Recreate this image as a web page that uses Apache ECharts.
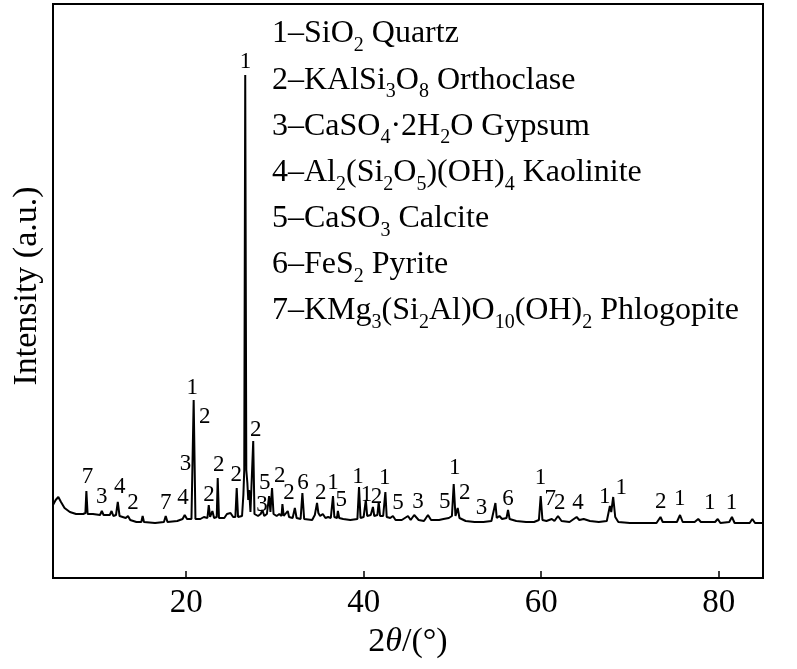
<!DOCTYPE html>
<html>
<head>
<meta charset="utf-8">
<script src="https://cdn.jsdelivr.net/npm/echarts@6/dist/echarts.min.js"></script>
<style>
  html, body { margin: 0; padding: 0; background: #fff; }
  #main { width: 797px; height: 669px; }
</style>
</head>
<body>
<div id="main"></div>
<script>
// XRD pattern: 2theta (deg) and intensity (a.u.)
var twoTheta = [5.0, 5.3, 5.6, 5.9, 6.3, 6.9, 7.6, 8.4, 8.65, 8.76, 8.9, 9.5, 10.3, 10.5, 10.7, 11.4, 11.6, 11.8, 12.1, 12.3,
  12.5, 13.2, 13.45, 13.7, 14.4, 14.95, 15.1, 15.25, 16.5, 17.5, 17.7, 17.9, 19.0, 19.6, 19.84, 20.1, 20.6, 20.85, 21.05, 21.6,
  22.0, 22.4, 22.55, 22.7, 22.96, 23.15, 23.45, 23.56, 23.7, 24.3, 24.6, 24.8, 25.0, 25.3, 25.55, 25.7, 25.85, 26.3, 26.45, 26.55,
  26.66, 26.78, 26.9, 27.0, 27.1, 27.25, 27.45, 27.56, 27.7, 28.1, 28.4, 28.6, 28.8, 29.1, 29.35, 29.5, 29.68, 29.85, 30.2, 30.5,
  30.75, 30.85, 31.0, 31.45, 31.6, 32.0, 32.25, 32.45, 32.9, 33.1, 33.3, 34.2, 34.5, 34.75, 34.9, 35.1, 35.4, 35.7, 36.0, 36.3,
  36.55, 36.7, 37.0, 37.1, 37.25, 37.7, 38.5, 39.3, 39.48, 39.65, 40.0, 40.25, 40.4, 40.8, 41.05, 41.2, 41.55, 41.7, 41.85, 42.2,
  42.45, 42.6, 43.0, 43.3, 43.6, 44.3, 45.0, 45.3, 45.7, 45.9, 46.2, 46.8, 47.25, 47.6, 48.5, 49.0, 49.6, 49.95, 50.15, 50.35,
  50.6, 50.8, 51.5, 52.5, 53.5, 54.4, 54.85, 55.0, 55.3, 55.6, 56.1, 56.27, 56.45, 57.2, 58.3, 59.2, 59.75, 59.95, 60.15, 60.6,
  61.2, 61.5, 61.9, 62.3, 63.2, 64.0, 64.3, 64.8, 65.5, 66.5, 67.4, 67.75, 67.9, 68.12, 68.35, 68.7, 70.0, 71.5, 73.0, 73.45,
  73.7, 75.3, 75.65, 75.95, 77.3, 77.7, 78.0, 79.6, 79.9, 80.2, 81.2, 81.5, 81.8, 83.5, 83.8, 84.1, 85.0];
var intensity = [73, 78, 81, 76, 70, 66, 64, 64, 65, 87, 64, 64, 63, 67, 63, 63, 67, 62, 63, 76,
  62, 60, 62, 58, 56, 56, 62, 56, 55, 56, 62, 56, 57, 59, 63, 59, 59, 178, 59, 59,
  61, 60, 73, 61, 67, 60, 61, 100, 60, 60, 64, 62, 65, 61, 61, 90, 61, 62, 83, 108,
  503, 108, 95, 78, 88, 66, 64, 137, 64, 62, 64, 68, 62, 64, 82, 66, 90, 64, 62, 64,
  62, 74, 62, 67, 61, 60, 70, 60, 59, 85, 59, 58, 63, 75, 65, 62, 64, 60, 61, 60,
  82, 61, 60, 67, 60, 59, 58, 59, 91, 60, 61, 78, 62, 63, 71, 62, 63, 76, 62, 62,
  86, 61, 60, 62, 58, 58, 62, 58, 63, 64, 58, 57, 63, 58, 58, 59, 60, 62, 94, 62,
  70, 60, 57, 56, 56, 57, 75, 60, 62, 59, 60, 68, 59, 57, 56, 56, 58, 82, 58, 57,
  59, 57, 62, 57, 56, 61, 58, 59, 57, 56, 57, 72, 66, 81, 61, 56, 55, 55, 55, 61,
  56, 56, 63, 56, 56, 59, 56, 56, 59, 55, 56, 61, 55, 55, 59, 55, 55];

// phase numbers written above the peaks
var markTheta = [8.88, 10.49, 12.52, 14.01, 17.7, 19.65, 19.92, 20.7, 22.09, 22.58, 23.67, 25.66, 26.68, 27.84, 28.85, 28.55,
  30.54, 31.59, 33.17, 35.16, 36.55, 37.49, 39.37, 40.31, 41.44, 42.37, 43.87, 46.13, 49.14, 50.27, 51.39, 53.27, 56.27,
  59.92, 61.04, 62.09, 64.15, 67.16, 69.04, 73.47, 75.61, 78.99, 81.44];
var markHeight = [101, 81, 91, 75, 75, 80, 114, 190, 161, 83, 113, 103, 516, 148, 95, 73,
  102, 85, 95, 85, 95, 78, 101, 83, 81, 100, 75, 76, 76, 110, 85, 70, 79,
  100, 79, 75, 75, 81, 90, 76, 79, 75, 75];
var markText = ['7', '3', '4', '2', '7', '4', '3', '1', '2', '2', '2', '2', '1', '2', '5', '3',
  '2', '2', '6', '2', '1', '5', '1', '1', '2', '1', '5', '3', '5', '1', '2', '3', '6',
  '1', '7', '2', '4', '1', '1', '2', '1', '1', '1'];

var xTicks = [20, 40, 60, 80];

var phases = [
  '{m|1–SiO}{s|2}{m| Quartz}',
  '{m|2–KAlSi}{s|3}{m|O}{s|8}{m| Orthoclase}',
  '{m|3–CaSO}{s|4}{m|·2H}{s|2}{m|O Gypsum}',
  '{m|4–Al}{s|2}{m|(Si}{s|2}{m|O}{s|5}{m|)(OH)}{s|4}{m| Kaolinite}',
  '{m|5–CaSO}{s|3}{m| Calcite}',
  '{m|6–FeS}{s|2}{m| Pyrite}',
  '{m|7–KMg}{s|3}{m|(Si}{s|2}{m|Al)O}{s|10}{m|(OH)}{s|2}{m| Phlogopite}'
];

var serif = '"Liberation Serif", "Times New Roman", serif';

var pattern = twoTheta.map(function (t, i) { return [t, intensity[i]]; });
var marks = markTheta.map(function (t, i) { return [t, markHeight[i], markText[i]]; });

var legendRich = {
  m: { fontFamily: serif, fontSize: 32, lineHeight: 44, verticalAlign: 'middle', color: '#000' },
  s: { fontFamily: serif, fontSize: 20, lineHeight: 20, verticalAlign: 'bottom', color: '#000' }
};

var legendItems = phases.map(function (txt, i) {
  return {
    type: 'text',
    x: 272,
    y: 12 + i * 46.1,
    style: { text: txt, rich: legendRich, verticalAlign: 'top', align: 'left' }
  };
});

var myChart = echarts.init(document.getElementById('main'));

var option = {
  animation: false,
  backgroundColor: '#fff',
  grid: {
    left: 53, right: 34, top: 4, bottom: 91,
    show: true, borderColor: '#000', borderWidth: 2
  },
  xAxis: {
    type: 'value',
    min: 5, max: 85,
    name: '{a|2}{b|θ}{a|/(°)}',
    nameLocation: 'middle',
    nameGap: 47,
    nameTextStyle: {
      rich: {
        a: { fontFamily: serif, fontSize: 34, color: '#000' },
        b: { fontFamily: serif, fontSize: 34, fontStyle: 'italic', color: '#000' }
      }
    },
    axisLine: { lineStyle: { color: '#000', width: 2 } },
    axisTick: { inside: true, length: 7, customValues: xTicks, lineStyle: { color: '#000', width: 1.5 } },
    axisLabel: { customValues: xTicks, fontFamily: serif, fontSize: 33, color: '#000', margin: 9 },
    splitLine: { show: false }
  },
  yAxis: {
    type: 'value',
    min: 0, max: 574,
    name: 'Intensity (a.u.)',
    nameLocation: 'middle',
    nameGap: 9,
    nameTextStyle: { fontFamily: serif, fontSize: 34, color: '#000', padding: [0, 0, 0, 10] },
    axisLine: { show: true, lineStyle: { color: '#000', width: 2 } },
    axisTick: { show: false },
    axisLabel: { show: false },
    splitLine: { show: false }
  },
  series: [
    {
      type: 'line',
      data: pattern,
      showSymbol: false,
      lineStyle: { color: '#000', width: 2 },
      z: 3
    },
    {
      type: 'scatter',
      data: marks,
      symbolSize: 0,
      silent: true,
      itemStyle: { opacity: 1 },
      label: {
        show: true,
        position: 'inside',
        formatter: function (p) { return p.value[2]; },
        fontFamily: serif,
        fontSize: 23,
        color: '#000',
        opacity: 1
      },
      z: 4
    }
  ],
  graphic: legendItems
};

myChart.setOption(option);
</script>
</body>
</html>
